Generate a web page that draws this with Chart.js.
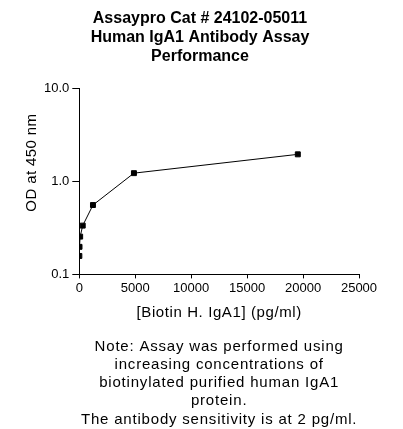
<!DOCTYPE html>
<html>
<head>
<meta charset="utf-8">
<script src="https://cdn.jsdelivr.net/npm/chart.js@4.4.1/dist/chart.umd.min.js"></script>
<style>
  body { margin: 0; background: #fff; }
  #wrap { width: 403px; height: 429px; }
</style>
</head>
<body>
<div id="wrap"><canvas id="chart"></canvas></div>
<script>
// concentration (pg/ml) and OD readings
const conc = [4.8, 19, 76, 305, 1221, 4883, 19531];
const od = [0.158, 0.198, 0.255, 0.335, 0.558, 1.23, 1.96];
const yTicks = [0.1, 1, 10];
const xTicks = [0, 5000, 10000, 15000, 20000, 25000];

const titleLines = ['Assaypro Cat # 24102-05011', 'Human IgA1 Antibody Assay', 'Performance'];
const yLabel = 'OD at 450 nm';
const xLabel = '[Biotin H. IgA1] (pg/ml)';
const noteLines = [
  'Note: Assay was performed using',
  'increasing concentrations of',
  'biotinylated purified human IgA1',
  'protein.',
  'The antibody sensitivity is at 2 pg/ml.'
];

const FONT = 'Arial, "Liberation Sans", sans-serif';
Chart.defaults.font.family = FONT;
Chart.defaults.color = '#000';

// axis labels + note text, placed relative to the plot area
const extraText = {
  id: 'extraText',
  afterDraw(chart) {
    const { ctx, chartArea: a } = chart;
    const cx = (a.left + a.right) / 2;
    ctx.save();
    ctx.fillStyle = '#000';
    ctx.textAlign = 'center';
    ctx.textBaseline = 'middle';
    ctx.font = '15px ' + FONT;

    ctx.save();
    ctx.letterSpacing = '0.4px';
    ctx.translate(a.left - 47, a.top + 74);
    ctx.rotate(-Math.PI / 2);
    ctx.fillText(yLabel, 0, 0);
    ctx.restore();

    ctx.letterSpacing = '0.6px';
    ctx.fillText(xLabel, cx, a.bottom + 38);

    ctx.letterSpacing = '0.8px';
    noteLines.forEach((t, i) => ctx.fillText(t, cx, a.bottom + 72 + i * 18.3));
    ctx.restore();
  }
};

new Chart(document.getElementById('chart'), {
  type: 'line',
  data: {
    datasets: [{
      data: conc.map((x, i) => ({ x, y: od[i] })),
      borderColor: '#000',
      backgroundColor: '#000',
      borderWidth: 1,
      pointStyle: 'rect',
      pointRadius: 3.5,
      tension: 0
    }]
  },
  options: {
    responsive: true,
    maintainAspectRatio: false,
    animation: false,
    layout: { padding: { left: 41, right: 44, top: 9, bottom: 131 } },
    plugins: {
      legend: { display: false },
      tooltip: { enabled: false },
      title: {
        display: true,
        text: titleLines,
        font: { size: 16, weight: 'bold' },
        lineHeight: 1.2,
        padding: { top: 0, bottom: 22 }
      }
    },
    scales: {
      x: {
        type: 'linear',
        min: 0,
        max: 25000,
        afterBuildTicks: s => { s.ticks = xTicks.map(v => ({ value: v })); },
        ticks: { font: { size: 13 }, padding: 2, maxRotation: 0, callback: v => String(v) },
        grid: { drawOnChartArea: false, color: '#000', tickLength: 4 },
        border: { color: '#000', width: 1 }
      },
      y: {
        type: 'logarithmic',
        min: 0.1,
        max: 10,
        afterBuildTicks: s => { s.ticks = yTicks.map(v => ({ value: v })); },
        ticks: { font: { size: 13 }, padding: 3, callback: v => Number(v).toFixed(1) },
        grid: { drawOnChartArea: false, color: '#000', tickLength: 7 },
        border: { color: '#000', width: 1 }
      }
    }
  },
  plugins: [extraText]
});
</script>
</body>
</html>
